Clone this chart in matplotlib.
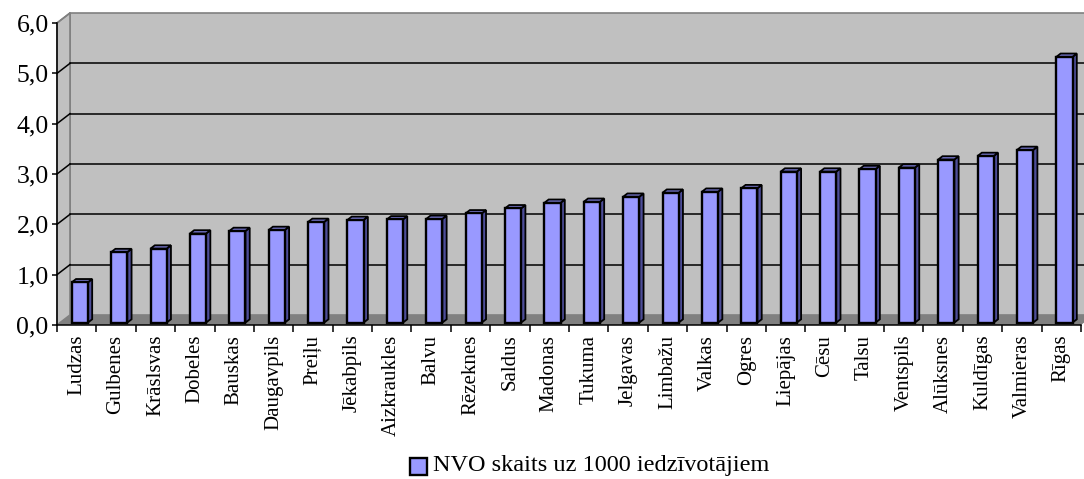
import matplotlib
matplotlib.use("Agg")
import matplotlib.pyplot as plt
from matplotlib.patches import Polygon, Rectangle

# NGO count per 1000 inhabitants, by district
districts = ["Ludzas", "Gulbenes", "Krāslsvas", "Dobeles", "Bauskas", "Daugavpils",
             "Preiļu", "Jēkabpils", "Aizkraukles", "Balvu", "Rēzeknes", "Saldus",
             "Madonas", "Tukuma", "Jelgavas", "Limbažu", "Valkas", "Ogres",
             "Liepājas", "Cēsu", "Talsu", "Ventspils", "Alūksnes", "Kuldīgas",
             "Valmieras", "Rīgas"]
values = [0.80, 1.40, 1.47, 1.77, 1.82, 1.84,
          2.00, 2.04, 2.05, 2.06, 2.17, 2.27,
          2.38, 2.40, 2.50, 2.58, 2.60, 2.67,
          3.00, 3.00, 3.05, 3.08, 3.24, 3.31,
          3.43, 5.28]
y_ticks = [0, 1, 2, 3, 4, 5, 6]
y_tick_labels = ["0,0", "1,0", "2,0", "3,0", "4,0", "5,0", "6,0"]
legend_label = "NVO skaits uz 1000 iedzīvotājiem"

W, H = 1084, 479
fig = plt.figure(figsize=(W / 100, H / 100), dpi=100)
fig.patch.set_facecolor("white")

# front plane of the pseudo-3D box, in pixels
x0, x1, yb, yt = 57, 1081, 325, 23
ax = fig.add_axes([x0 / W, (H - yb) / H, (x1 - x0) / W, (yb - yt) / H])
n = len(districts)
ymax = 6
ax.set_xlim(0, n)
ax.set_ylim(0, ymax)
ax.set_facecolor("none")

# depth vector (front -> back) in data units
px_x = (x1 - x0) / n
px_y = (yb - yt) / ymax
Dx, Dy = 13 / px_x, 10 / px_y

wall = "#c0c0c0"
wall_edge = "#808080"
floor = "#808080"

# back wall
ax.add_patch(Polygon([(Dx, Dy), (n + Dx, Dy), (n + Dx, ymax + Dy), (Dx, ymax + Dy)],
                     closed=True, facecolor=wall, edgecolor=wall_edge, lw=1.2,
                     clip_on=False, zorder=0.5))
# left side wall
ax.add_patch(Polygon([(0, 0), (Dx, Dy), (Dx, ymax + Dy), (0, ymax)],
                     closed=True, facecolor=wall, edgecolor=wall_edge, lw=1.2,
                     clip_on=False, zorder=0.6))
# gridlines on back wall and left wall
for k in y_ticks[1:]:
    c = "black" if k < ymax else wall_edge
    if k < ymax:
        ax.plot([Dx, n + Dx], [k + Dy, k + Dy], color="black", lw=1.1,
                clip_on=False, zorder=0.8)
    ax.plot([0, Dx], [k, k + Dy], color=c, lw=1.1, clip_on=False, zorder=0.8)
# floor
ax.add_patch(Polygon([(0, 0), (n, 0), (n + Dx, Dy), (Dx, Dy)],
                     closed=True, facecolor=floor, edgecolor="none",
                     clip_on=False, zorder=0.9))

# 3D columns
front_c, side_c, top_c = "#9999ff", "#4d4d99", "#7373c8"
f0, f1 = 0.24, 0.57
bw = 0.41
for i, v in enumerate(values):
    ox, oy = f0 * Dx, f0 * Dy
    dx, dy = (f1 - f0) * Dx, (f1 - f0) * Dy
    left = i + 0.5 - bw / 2 + ox
    right = left + bw
    b = oy
    t = v + oy
    z = 3 + i * 0.01
    ax.add_patch(Polygon([(right, b), (right + dx, b + dy), (right + dx, t + dy), (right, t)],
                         closed=True, facecolor=side_c, edgecolor="black", lw=1.3,
                         joinstyle="miter", clip_on=False, zorder=z))
    ax.add_patch(Polygon([(left, t), (right, t), (right + dx, t + dy), (left + dx, t + dy)],
                         closed=True, facecolor=top_c, edgecolor="black", lw=1.3,
                         joinstyle="miter", clip_on=False, zorder=z))
    ax.add_patch(Rectangle((left, b), bw, v, facecolor=front_c, edgecolor="black",
                           lw=1.7, joinstyle="miter", clip_on=False, zorder=z + 0.005))

# axes, ticks and labels
for s in ("top", "right"):
    ax.spines[s].set_visible(False)
for s in ("left", "bottom"):
    ax.spines[s].set_color("black")
    ax.spines[s].set_linewidth(1.1)
    ax.spines[s].set_zorder(2.5)

serif = ["Liberation Serif", "DejaVu Serif"]
ax.set_yticks(y_ticks)
ax.set_yticklabels(y_tick_labels, fontfamily=serif, fontsize=18.5)
ax.tick_params(axis="y", direction="out", length=3.5, width=1.1, pad=2.5, colors="black")

ax.set_xticks(range(n + 1))
ax.set_xticklabels([])
ax.tick_params(axis="x", which="major", direction="out", length=5, width=1.1)
ax.set_xticks([i + 0.5 for i in range(n)], minor=True)
ax.set_xticklabels(districts, minor=True, rotation=90, fontfamily=serif, fontsize=15,
                   va="top", ha="center")
ax.tick_params(axis="x", which="minor", length=0, pad=7)

# legend
lx, ly, ls = 410, 458, 17
fig.patches.append(Rectangle((lx / W, (H - ly - ls) / H), ls / W, ls / H,
                             transform=fig.transFigure, facecolor=front_c,
                             edgecolor="black", lw=1.7, figure=fig))
fig.text(433 / W, (H - 466) / H, legend_label, fontfamily=serif, fontsize=17.5,
         va="center", ha="left")

fig.savefig("out.png", dpi=100)
